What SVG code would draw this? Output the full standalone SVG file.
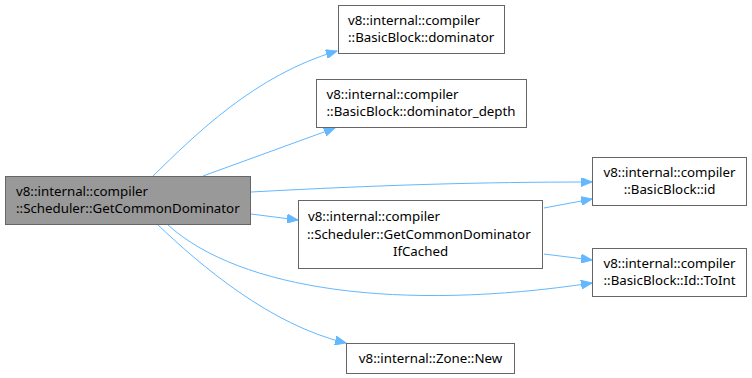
<svg xmlns="http://www.w3.org/2000/svg" width="752" height="378" viewBox="0 0 752 378">
  <style>
    .box { fill: #ffffff; stroke: #666666; stroke-width: 1; }
    .cur { fill: #999999; stroke: #666666; stroke-width: 1; }
    .lbl { font-family: "Noto Sans", "DejaVu Sans", sans-serif; font-size: 13.3px; fill: #000000; }
    .mid { text-anchor: middle; }
    .edge { fill: none; stroke: #63b8ff; stroke-width: 1; marker-end: url(#arrow); }
  </style>
  <defs>
    <marker id="arrow" markerUnits="userSpaceOnUse" markerWidth="12" markerHeight="9" refX="11" refY="4.5" orient="auto">
      <path d="M0,0 L11,4.5 L0,9 z" fill="#63b8ff" stroke="#63b8ff" stroke-width="1"/>
    </marker>
  </defs>

  <rect width="752" height="378" fill="#ffffff"/>

  <g id="edges">
    <path class="edge" d="M153,176 C195,135 255,75 337,51"/>
    <path class="edge" d="M203,176 L335,128"/>
    <path class="edge" d="M251,192 C380,185 480,182 592,182"/>
    <path class="edge" d="M251,214 L298,220"/>
    <path class="edge" d="M168,225 C240,290 400,312 592,283"/>
    <path class="edge" d="M157,224 C200,265 270,325 346,343"/>
    <path class="edge" d="M544,208 L592,199"/>
    <path class="edge" d="M544,254 L592,260"/>
  </g>

  <g id="node-getcommondominator">
    <rect class="cur" x="5.5" y="176.5" width="245" height="48"/>
    <text class="lbl" x="16" y="196">v8::internal::compiler</text>
    <text class="lbl" x="16" y="213">::Scheduler::GetCommonDominator</text>
  </g>

  <g id="node-dominator">
    <rect class="box" x="338.5" y="5.5" width="166" height="48"/>
    <text class="lbl" x="348" y="25">v8::internal::compiler</text>
    <text class="lbl" x="348" y="42">::BasicBlock::dominator</text>
  </g>

  <g id="node-dominator-depth">
    <rect class="box" x="316.5" y="79.5" width="210" height="48"/>
    <text class="lbl" x="326.5" y="99">v8::internal::compiler</text>
    <text class="lbl" x="326.5" y="116">::BasicBlock::dominator_depth</text>
  </g>

  <g id="node-ifcached">
    <rect class="box" x="298.5" y="200.5" width="244" height="68"/>
    <text class="lbl" x="308" y="221">v8::internal::compiler</text>
    <text class="lbl" x="307" y="238.5">::Scheduler::GetCommonDominator</text>
    <text class="lbl mid" x="420.5" y="256">IfCached</text>
  </g>

  <g id="node-id">
    <rect class="box" x="592.5" y="157.5" width="154" height="48"/>
    <text class="lbl mid" x="669.5" y="177">v8::internal::compiler</text>
    <text class="lbl mid" x="669.5" y="194">::BasicBlock::id</text>
  </g>

  <g id="node-toint">
    <rect class="box" x="592.5" y="248.5" width="154" height="48"/>
    <text class="lbl mid" x="669.5" y="268">v8::internal::compiler</text>
    <text class="lbl mid" x="669.5" y="285">::BasicBlock::Id::ToInt</text>
  </g>

  <g id="node-zone-new">
    <rect class="box" x="346.5" y="343.5" width="168" height="30"/>
    <text class="lbl mid" x="430.5" y="363">v8::internal::Zone::New</text>
  </g>
</svg>
